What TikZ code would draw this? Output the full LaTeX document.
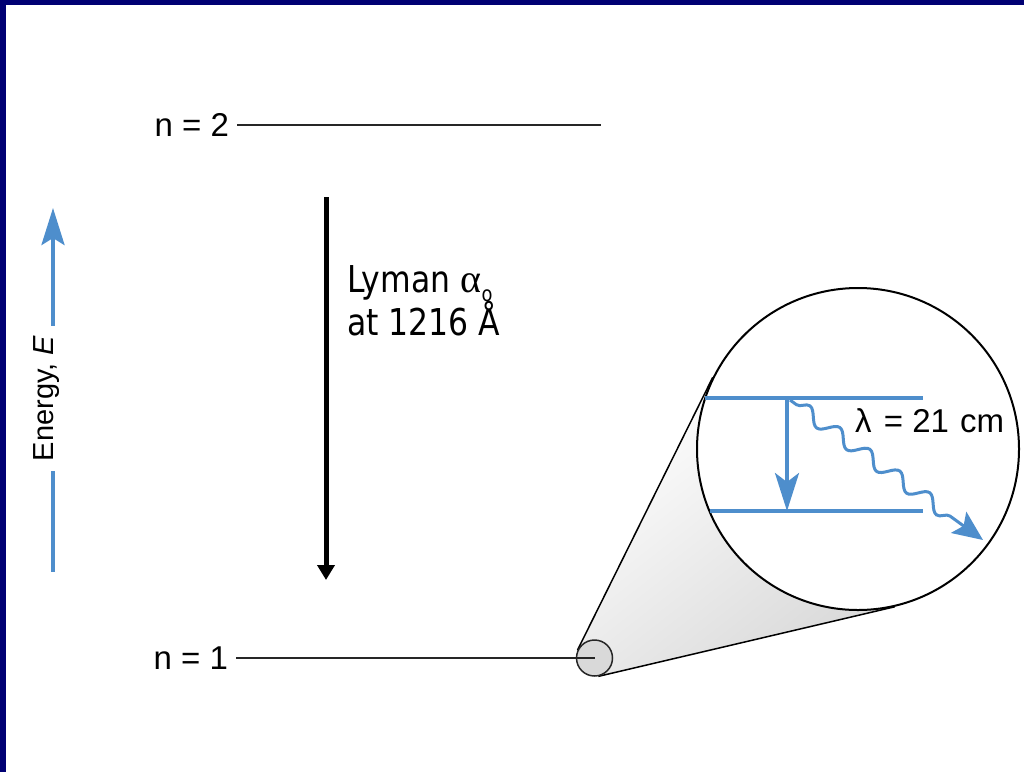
\documentclass[tikz,border=0pt]{standalone}
\usepackage{fontspec}
\setmainfont{Liberation Sans}
\newfontfamily\lymanfont[FakeStretch=0.85]{DejaVu Sans}
\newfontfamily\greekfont{Liberation Serif}
\usepackage{tikz}
\usetikzlibrary{arrows.meta,calc,backgrounds,decorations.pathmorphing}
\definecolor{slide}{RGB}{0,0,115}
\definecolor{hblue}{RGB}{78,142,204}

\begin{document}
\begin{tikzpicture}[x=1pt,y=-1pt,
  level/.style={draw=black!85,line width=2pt},
  levtext/.style={inner sep=0pt,outer xsep=8pt,font=\fontsize{33}{36}\selectfont},
  blueline/.style={draw=hblue,line width=4pt},
  photon/.style={hblue,line width=3pt,decorate,
    decoration={snake,amplitude=7pt,segment length=37pt,pre length=8pt,post length=24pt}},
  >={Stealth[]}]
\useasboundingbox (0,0) rectangle (1024,772);
\begin{scope}[on background layer]
\fill[slide] (0,0) rectangle (1024,772);
\fill[white] (6,5) rectangle (1024,772);
\end{scope}

% energy axis
\node[rotate=90,anchor=base,inner sep=0pt,outer xsep=10pt,font=\fontsize{29}{32}\selectfont] (energy) at (53,398.5) {Energy, \textit{E}};
\coordinate (etop) at (53,208);
\coordinate (ebot) at (53,572);
\draw[hblue,line width=4pt,-{Stealth[length=37pt,width=23pt,inset=7pt]}] (energy.base east) -- (etop);
\draw[hblue,line width=4pt] (energy.base west) -- (ebot);

% levels
\node[levtext,anchor=east] (n2) at (237,125) {n = 2};
\node[levtext,anchor=east] (n1) at (236,658) {n = 1};
\coordinate (n2end) at (601,125);
\draw[level] (n2.east) -- (n2end);

% Lyman alpha
\coordinate (ltop) at (326,197);
\coordinate (lbot) at (326,580);
\draw[line width=5pt,-{Triangle[length=15pt,width=17pt]}] (ltop) -- (lbot);
\node[anchor=north west,inner sep=0pt,align=left,font=\lymanfont\fontsize{37}{41}\selectfont] (lyman) at (347,265)
  {Lyman {\greekfont\fontsize{40}{40}\selectfont α}\kern0.5pt\smash{\raisebox{-9pt}{\fontsize{21}{21}\selectfont o}}\\at 1216 Å};

% magnifier
\node[circle,draw=black!85,line width=1.5pt,fill=black!15,minimum size=36pt,inner sep=0pt] (dot) at (594.5,658) {};
\node[circle,draw=black,line width=2pt,fill=white,minimum size=322pt,inner sep=0pt] (lens) at (858,449) {};
\coordinate (H) at (561.3,684.2);
\begin{scope}[on background layer]
\shade[top color=white,bottom color=black!15,shading angle=38]
  (tangent cs:node=dot,point={(H)},solution=1) -- (tangent cs:node=lens,point={(H)},solution=1)
  -- (tangent cs:node=lens,point={(H)},solution=2) -- (tangent cs:node=dot,point={(H)},solution=2) -- cycle;
\draw[line width=1.5pt] (tangent cs:node=dot,point={(H)},solution=1) -- (tangent cs:node=lens,point={(H)},solution=1);
\draw[line width=1.5pt] (tangent cs:node=dot,point={(H)},solution=2) -- (tangent cs:node=lens,point={(H)},solution=2);
\end{scope}
\draw[level] (n1.east) -- (dot.center);

% hyperfine levels
\coordinate (u1) at (705,398);
\coordinate (u2) at (923,398);
\coordinate (l1) at (709.5,511);
\coordinate (l2) at (923,511);
\draw[blueline] (u1) -- (u2);
\draw[blueline] (l1) -- (l2);
\coordinate (va) at (787,398);
\coordinate (vb) at (787,511);
\draw[hblue,line width=3.5pt,-{Stealth[length=38pt,width=24pt,inset=9pt]}] (va) -- (vb);
\coordinate (ws) at (790,400);
\coordinate (we) at (983,540);
\draw[photon,-{Stealth[length=30pt,width=26pt,inset=6pt]}] (ws) -- (we);
\node[anchor=base west,inner sep=0pt,font=\fontsize{33}{36}\selectfont] (lambda) at (855,432) {λ\hspace{3pt} = 21\hspace{2pt} cm};
\end{tikzpicture}
\end{document}
